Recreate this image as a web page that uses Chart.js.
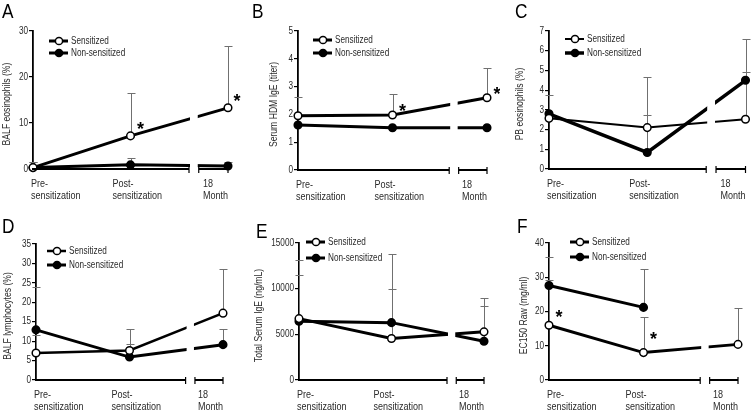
<!DOCTYPE html>
<html>
<head>
<meta charset="utf-8">
<script src="https://cdn.jsdelivr.net/npm/chart.js@4.4.0/dist/chart.umd.min.js"></script>
<style>
  body { margin: 0; background: #fff; width: 751px; height: 411px; position: relative; overflow: hidden; }
  .panel { position: absolute; }
</style>
</head>
<body>
<div class="panel" style="left:0;top:0"><canvas id="cA" width="250" height="205"></canvas></div>
<div class="panel" style="left:250px;top:0"><canvas id="cB" width="250" height="205"></canvas></div>
<div class="panel" style="left:500px;top:0"><canvas id="cC" width="251" height="205"></canvas></div>
<div class="panel" style="left:0;top:205px"><canvas id="cD" width="250" height="206"></canvas></div>
<div class="panel" style="left:250px;top:205px"><canvas id="cE" width="250" height="206"></canvas></div>
<div class="panel" style="left:500px;top:205px"><canvas id="cF" width="251" height="206"></canvas></div>
<script>
const timeLabels = [["Pre-", "sensitization"], ["Post-", "sensitization"], ["18", "Month"]];
const seriesNames = ["Sensitized", "Non-sensitized"];
const axisBreak = [1.6, 1.7];

// A - BALF eosinophils
const balfEosTicks = [0, 10, 20, 30];
const balfEosSens = [0.3, 7.2, 13.3];
const balfEosSensSD = [1.6, 16.6, 26.8];
const balfEosNon = [0.3, 0.9, 0.65];
const balfEosNonSD = [1.6, 2.3, 1.6];
const balfEosStars = [1, 2];

// B - serum HDM IgE
const hdmTicks = [0, 1, 2, 3, 4, 5];
const hdmSens = [1.95, 1.98, 2.6];
const hdmSensSD = [2.64, 2.73, 3.68];
const hdmNon = [1.62, 1.52, 1.52];
const hdmNonSD = [null, null, null];
const hdmStars = [1, 2];

// C - PB eosinophils
const pbEosTicks = [0, 1, 2, 3, 4, 5, 6, 7];
const pbEosSens = [2.57, 2.1, 2.52];
const pbEosSensSD = [3.74, 4.65, 6.58];
const pbEosNon = [2.8, 0.84, 4.5];
const pbEosNonSD = [null, 2.73, 4.9];
const pbEosStars = [];

// D - BALF lymphocytes
const balfLymTicks = [0, 5, 10, 15, 20, 25, 30, 35];
const balfLymSens = [6.95, 7.6, 17.2];
const balfLymSensSD = [11.6, 13.0, 28.6];
const balfLymNon = [12.9, 5.9, 9.1];
const balfLymNonSD = [24.0, 9.3, 13.0];
const balfLymStars = [];

// E - total serum IgE
const igeTicks = [0, 5000, 10000, 15000];
const igeSens = [6720, 4540, 5270];
const igeSensSD = [13150, 13800, 8970];
const igeNon = [6430, 6280, 4250];
const igeNonSD = [11510, 9990, 8060];
const igeStars = [];

// F - EC150 Raw
const ec150Ticks = [0, 10, 20, 30, 40];
const ec150Sens = [16.0, 8.0, 10.4];
const ec150SensSD = [29.2, 18.4, 21.0];
const ec150Non = [27.6, 21.2, null];
const ec150NonSD = [36.0, 32.4, null];
const ec150Stars = [0, 1];

const FONT = '"Liberation Sans", Arial, sans-serif';
const TEXT = '#2a2a2a';
const SQUEEZE = 0.82; // the figure's type is a narrow grotesque

const panels = [
  { id: 'A', title: 'BALF eosinophils (%)', ticks: balfEosTicks, sens: balfEosSens, sensSD: balfEosSensSD,
    non: balfEosNon, nonSD: balfEosNonSD, stars: balfEosStars,
    box: { axisX: 33, top: 31, bottom: 169, right: 228 }, titleX: 7,
    letter: [2, 18], legend: [49, 41, 12], starOff: [[10, -11], [9, -11]], sensW: 3, nonW: 3 },
  { id: 'B', title: 'Serum HDM IgE (titer)', ticks: hdmTicks, sens: hdmSens, sensSD: hdmSensSD,
    non: hdmNon, nonSD: hdmNonSD, stars: hdmStars,
    box: { axisX: 48, top: 31, bottom: 170, right: 237 }, titleX: 24,
    letter: [2, 18], legend: [63, 40, 13], starOff: [[10, -8], [10, -8]], sensW: 3, nonW: 3 },
  { id: 'C', title: 'PB eosinophils (%)', ticks: pbEosTicks, sens: pbEosSens, sensSD: pbEosSensSD,
    non: pbEosNon, nonSD: pbEosNonSD, stars: pbEosStars,
    box: { axisX: 49, top: 31, bottom: 169, right: 247 }, titleX: 20,
    letter: [15, 18], legend: [65, 39, 14], starOff: [], sensW: 2, nonW: 3.5 },
  { id: 'D', title: 'BALF lymphocytes (%)', ticks: balfLymTicks, sens: balfLymSens, sensSD: balfLymSensSD,
    non: balfLymNon, nonSD: balfLymNonSD, stars: balfLymStars,
    box: { axisX: 36, top: 39, bottom: 175, right: 223 }, titleX: 8,
    letter: [2, 28], legend: [47, 46, 14], starOff: [], sensW: 2.5, nonW: 3 },
  { id: 'E', title: 'Total Serum IgE (ng/mL)', ticks: igeTicks, sens: igeSens, sensSD: igeSensSD,
    non: igeNon, nonSD: igeNonSD, stars: igeStars,
    box: { axisX: 49, top: 38, bottom: 175, right: 234 }, titleX: 9,
    letter: [6, 33], legend: [56, 37, 16], starOff: [], sensW: 3, nonW: 3 },
  { id: 'F', title: 'EC150 Raw (mg/ml)', ticks: ec150Ticks, sens: ec150Sens, sensSD: ec150SensSD,
    non: ec150Non, nonSD: ec150NonSD, stars: ec150Stars,
    box: { axisX: 49, top: 38, bottom: 175, right: 238 }, titleX: 24,
    letter: [17, 28], legend: [70, 37, 15], starOff: [[10, -12], [10, -18]], sensW: 3, nonW: 3 }
];

function toPoints(vals) {
  return vals.map((v, i) => ({ x: i, y: v }));
}

// text squeezed horizontally around its anchor
function narrowText(ctx, s, x, y, align, rot) {
  ctx.save();
  ctx.translate(x, y);
  if (rot) ctx.rotate(rot);
  ctx.scale(SQUEEZE, 1);
  ctx.textAlign = align;
  ctx.fillText(s, 0, 0);
  ctx.restore();
}

function makePanel(p) {
  const canvas = document.getElementById('c' + p.id);
  const W = canvas.width, H = canvas.height;
  const b = p.box;

  const deco = {
    id: 'deco',
    beforeDatasetsDraw(chart) {
      const ctx = chart.ctx, xs = chart.scales.x, ys = chart.scales.y;
      const area = chart.chartArea;
      ctx.save();
      // error bars (upper SD only)
      ctx.strokeStyle = '#707070';
      ctx.lineWidth = 1;
      [[p.sens, p.sensSD], [p.non, p.nonSD]].forEach(([vals, sds]) => {
        sds.forEach((e, i) => {
          if (e == null || vals[i] == null) return;
          const x = Math.round(xs.getPixelForValue(i)) + 0.5;
          const y0 = ys.getPixelForValue(vals[i]);
          const y1 = Math.round(ys.getPixelForValue(e)) + 0.5;
          ctx.beginPath();
          ctx.moveTo(x, y0); ctx.lineTo(x, y1);
          ctx.moveTo(x - 4, y1); ctx.lineTo(x + 4, y1);
          ctx.stroke();
        });
      });
      // y tick labels and title
      ctx.fillStyle = TEXT;
      ctx.font = '10px ' + FONT;
      ctx.textBaseline = 'middle';
      ys.ticks.forEach(tk => {
        narrowText(ctx, String(tk.value), area.left - 5, ys.getPixelForValue(tk.value), 'right');
      });
      ctx.font = '10.5px ' + FONT;
      narrowText(ctx, p.title, p.titleX, (area.top + area.bottom) / 2 + 4, 'center', -Math.PI / 2);
      ctx.restore();
    },
    afterDatasetsDraw(chart) {
      const ctx = chart.ctx, xs = chart.scales.x, ys = chart.scales.y;
      const area = chart.chartArea;
      const g0 = xs.getPixelForValue(axisBreak[0]);
      const g1 = xs.getPixelForValue(axisBreak[1]);
      ctx.save();

      // break in the lines
      ctx.fillStyle = '#fff';
      ctx.fillRect(g0 + 1, area.top, g1 - g0 - 2, area.bottom - area.top - 1);

      // broken x axis
      ctx.strokeStyle = '#000';
      ctx.lineWidth = 1.8;
      ctx.beginPath();
      ctx.moveTo(area.left - 1, area.bottom); ctx.lineTo(g0, area.bottom);
      ctx.moveTo(g1, area.bottom); ctx.lineTo(area.right, area.bottom);
      ctx.stroke();
      ctx.lineWidth = 1.2;
      ctx.beginPath();
      [g0, g1, area.right].forEach(x => {
        ctx.moveTo(x, area.bottom - 3); ctx.lineTo(x, area.bottom + 4);
      });
      ctx.stroke();

      // x labels
      const shift = [-2, -18, -25];
      ctx.fillStyle = TEXT;
      ctx.font = '11px ' + FONT;
      ctx.textBaseline = 'middle';
      timeLabels.forEach((lines, i) => {
        const x = xs.getPixelForValue(i) + shift[i];
        narrowText(ctx, lines[0], x, area.bottom + 15, 'left');
        narrowText(ctx, lines[1], x, area.bottom + 27, 'left');
      });

      // legend
      const [lx, ly, ldy] = p.legend;
      ctx.font = '10px ' + FONT;
      seriesNames.forEach((name, k) => {
        const y = ly + k * ldy;
        ctx.strokeStyle = '#000';
        ctx.lineWidth = k === 0 ? p.sensW : p.nonW;
        ctx.beginPath();
        ctx.moveTo(lx, y); ctx.lineTo(lx + 19, y);
        ctx.stroke();
        ctx.beginPath();
        ctx.arc(lx + 10, y, 3.6, 0, Math.PI * 2);
        ctx.fillStyle = k === 0 ? '#fff' : '#000';
        ctx.fill();
        ctx.lineWidth = 1.5;
        ctx.stroke();
        ctx.fillStyle = TEXT;
        narrowText(ctx, name, lx + 22, y, 'left');
      });

      // significance marks
      ctx.font = 'bold 18px ' + FONT;
      ctx.textAlign = 'center';
      ctx.textBaseline = 'alphabetic';
      ctx.fillStyle = '#000';
      p.stars.forEach((i, k) => {
        const [dx, dy] = p.starOff[k];
        const x = xs.getPixelForValue(i) + dx;
        const y = ys.getPixelForValue(p.sens[i]) + dy;
        ctx.fillText('*', x, y + 10);
      });

      // panel letter
      ctx.font = '21px ' + FONT;
      ctx.fillStyle = '#000';
      ctx.textBaseline = 'alphabetic';
      narrowText(ctx, p.id, p.letter[0], p.letter[1], 'left');
      ctx.restore();
    }
  };

  const t = p.ticks;
  return new Chart(canvas, {
    type: 'line',
    data: {
      datasets: [
        {
          label: seriesNames[0],
          data: toPoints(p.sens),
          borderColor: '#000',
          borderWidth: p.sensW,
          pointRadius: 3.8,
          pointBorderWidth: 1.5,
          pointBackgroundColor: '#fff',
          pointBorderColor: '#000',
          tension: 0,
          clip: false
        },
        {
          label: seriesNames[1],
          data: toPoints(p.non),
          borderColor: '#000',
          borderWidth: p.nonW,
          pointRadius: 3.8,
          pointBorderWidth: 1.5,
          pointBackgroundColor: '#000',
          pointBorderColor: '#000',
          tension: 0,
          clip: false
        }
      ]
    },
    options: {
      responsive: false,
      animation: false,
      devicePixelRatio: 1,
      layout: {
        padding: { left: 0, top: b.top, right: W - b.right, bottom: H - b.bottom }
      },
      plugins: { legend: { display: false }, tooltip: { enabled: false } },
      scales: {
        x: { type: 'linear', min: 0, max: timeLabels.length - 1, display: false },
        y: {
          min: t[0],
          max: t[t.length - 1],
          afterFit: s => { s.width = b.axisX; },
          ticks: { stepSize: t[1] - t[0], display: false },
          grid: { drawOnChartArea: false, tickLength: 4, color: '#000', lineWidth: 1.2 },
          border: { display: true, color: '#000', width: 1.8 },
          title: { display: false }
        }
      }
    },
    plugins: [deco]
  });
}

panels.forEach(makePanel);
</script>
</body>
</html>
